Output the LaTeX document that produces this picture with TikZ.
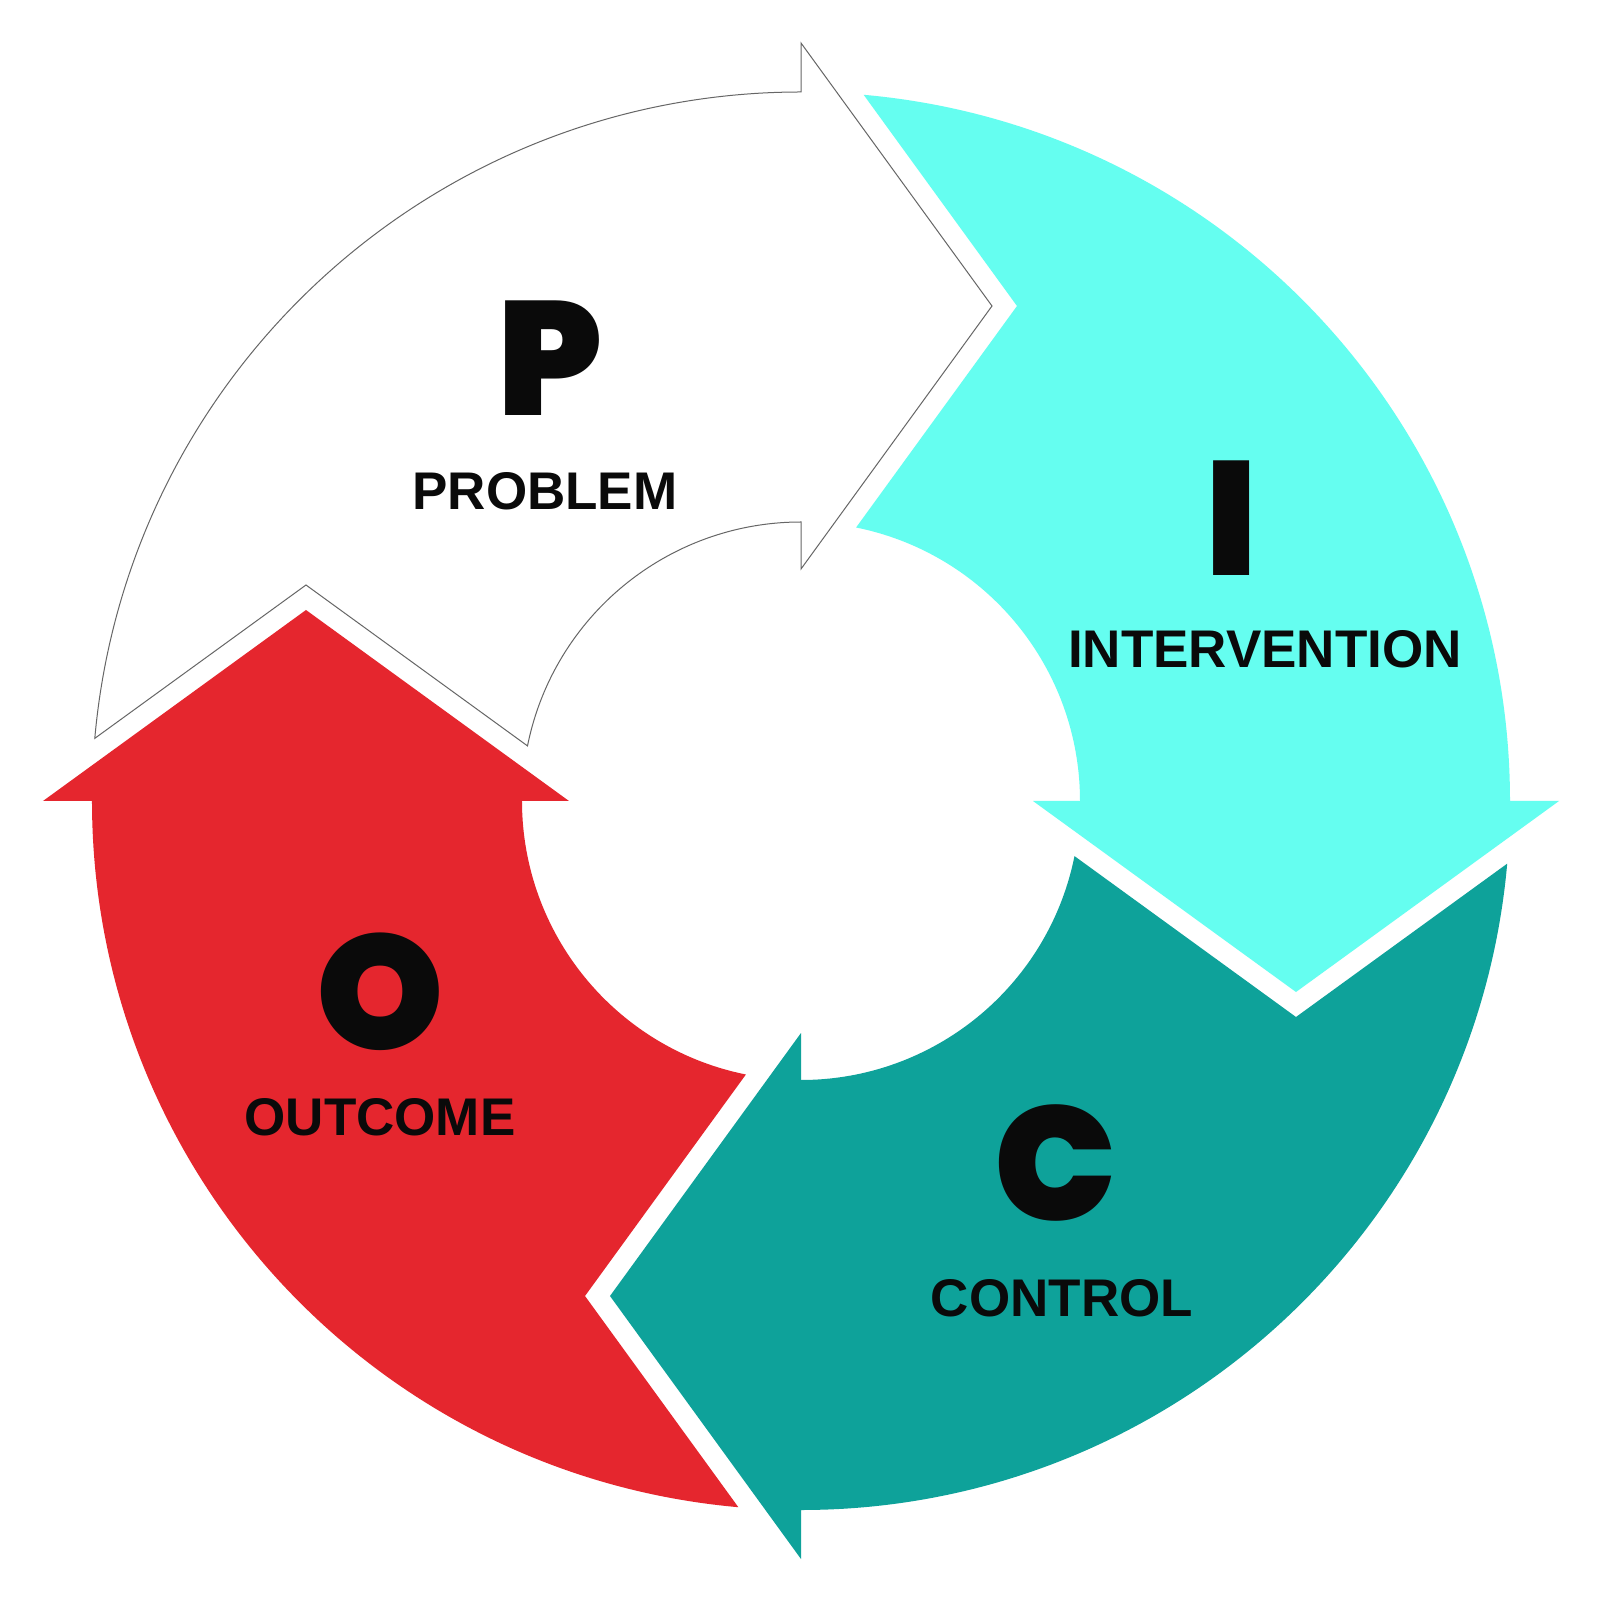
\documentclass[tikz,border=0pt]{standalone}
\usepackage{fontspec}
\setmainfont{Liberation Sans}
\IfFontExistsTF{Poppins Black}{\newfontfamily\bigfont{Poppins Black}\def\bigweight{}}{\newfontfamily\bigfont{Poppins}\def\bigweight{\bfseries}}
\definecolor{picocyan}{HTML}{65FEF0}
\definecolor{picoteal}{HTML}{0EA29A}
\definecolor{picored}{HTML}{E5262E}
\definecolor{picotext}{HTML}{0A0A0A}
\def\arrowshape{(174.93:709) arc[start angle=174.93,end angle=90,radius=709] -- (0,758) -- (191,495) -- (0,232) -- (0,279) arc[start angle=90,end angle=168.61,radius=279] -- (-495,216) -- cycle}
\tikzset{
  arrwhite/.style={fill=white,draw=black!60,line width=0.5pt,line join=miter},
  arrcyan/.style={fill=picocyan},
  arrteal/.style={fill=picoteal},
  arrred/.style={fill=picored},
  bigletter/.style={anchor=base,inner sep=0pt,outer sep=0pt,text=picotext,font=\bigfont\bigweight\fontsize{81}{81}\selectfont},
  wordlabel/.style={anchor=base,inner sep=0pt,outer sep=0pt,text=picotext,font=\bfseries\fontsize{26.5}{30}\selectfont}
}
\begin{document}
\begin{tikzpicture}[x=0.5pt,y=0.5pt]
\fill[white] (-801,-799) rectangle (799,801);
\useasboundingbox (-801,-799) rectangle (799,801);
% arrows
\path[arrwhite] \arrowshape;
\begin{scope}[rotate=-90]\path[arrcyan] \arrowshape;\end{scope}
\begin{scope}[rotate=-180]\path[arrteal] \arrowshape;\end{scope}
\begin{scope}[rotate=-270]\path[arrred] \arrowshape;\end{scope}
% letters
\node[bigletter] (p) at (-251,385) {\smash{P}};
\node[wordlabel] (problem) at (-256,291) {PROBLEM};
\node[bigletter] (i) at (431,225) {\smash{I}};
\node[wordlabel] (intervention) at (464,133) {INTERVENTION};
\node[bigletter] (o) at (-421,-248) {\smash{O}};
\node[wordlabel] (outcome) at (-421,-334) {OUTCOME};
\node[bigletter] (c) at (254,-419) {\smash{C}};
\node[wordlabel] (control) at (261,-515) {CONTROL};
\end{tikzpicture}
\end{document}
